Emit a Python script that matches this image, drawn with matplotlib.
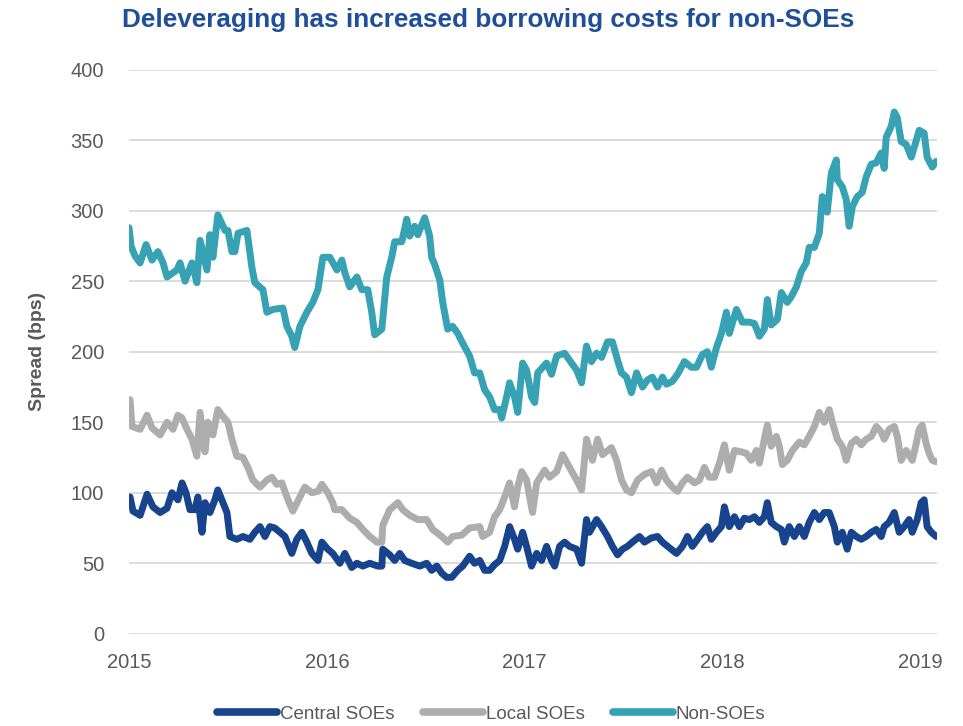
import matplotlib

matplotlib.use("Agg")
import matplotlib.pyplot as plt
from matplotlib.lines import Line2D

# decimal years / spread in bps
central_t = [2015.005, 2015.020, 2015.056, 2015.091, 2015.121, 2015.157, 2015.192, 2015.217, 2015.247, 2015.268,
             2015.288, 2015.308, 2015.333, 2015.348, 2015.369, 2015.384, 2015.409, 2015.434, 2015.449, 2015.475,
             2015.495, 2015.510, 2015.545, 2015.576, 2015.611, 2015.636, 2015.662, 2015.687, 2015.712, 2015.737,
             2015.763, 2015.788, 2015.823, 2015.848, 2015.874, 2015.899, 2015.924, 2015.955, 2015.975, 2016.005,
             2016.030, 2016.066, 2016.091, 2016.126, 2016.152, 2016.182, 2016.217, 2016.258, 2016.278, 2016.283,
             2016.318, 2016.343, 2016.369, 2016.394, 2016.429, 2016.470, 2016.505, 2016.530, 2016.556, 2016.581,
             2016.606, 2016.631, 2016.662, 2016.687, 2016.722, 2016.747, 2016.773, 2016.798, 2016.823, 2016.848,
             2016.874, 2016.899, 2016.924, 2016.949, 2016.965, 2016.990, 2017.010, 2017.035, 2017.061, 2017.086,
             2017.111, 2017.136, 2017.152, 2017.177, 2017.202, 2017.227, 2017.263, 2017.288, 2017.313, 2017.328,
             2017.364, 2017.389, 2017.419, 2017.444, 2017.470, 2017.495, 2017.520, 2017.545, 2017.581, 2017.606,
             2017.641, 2017.672, 2017.697, 2017.732, 2017.768, 2017.798, 2017.823, 2017.848, 2017.874, 2017.899,
             2017.924, 2017.944, 2017.970, 2017.995, 2018.010, 2018.035, 2018.061, 2018.086, 2018.111, 2018.136,
             2018.162, 2018.187, 2018.212, 2018.227, 2018.247, 2018.273, 2018.298, 2018.313, 2018.338, 2018.364,
             2018.389, 2018.414, 2018.439, 2018.465, 2018.490, 2018.515, 2018.540, 2018.566, 2018.581, 2018.606,
             2018.631, 2018.652, 2018.677, 2018.702, 2018.727, 2018.753, 2018.778, 2018.803, 2018.818, 2018.843,
             2018.869, 2018.894, 2018.919, 2018.944, 2018.960, 2018.985, 2019.005, 2019.020, 2019.035, 2019.056,
             2019.081]
central_v = [97, 87, 84, 99, 90, 86, 89, 100, 95, 107,
             100, 88, 88, 97, 72, 93, 86, 95, 102, 93,
             86, 69, 67, 69, 67, 72, 76, 69, 76, 75,
             72, 69, 57, 67, 72, 65, 57, 52, 65, 60,
             57, 50, 57, 47, 50, 48, 50, 48, 48, 60,
             56, 52, 57, 52, 50, 48, 50, 45, 48, 43,
             40, 40, 45, 48, 55, 50, 52, 45, 45, 49,
             52, 62, 76, 67, 60, 72, 62, 48, 57, 52,
             62, 52, 48, 62, 65, 62, 60, 50, 81, 72,
             81, 76, 69, 62, 56, 60, 62, 65, 69, 65,
             68, 69, 65, 61, 57, 62, 69, 62, 67, 72,
             76, 67, 72, 76, 90, 76, 83, 76, 82, 81,
             83, 79, 83, 93, 79, 76, 74, 65, 76, 69,
             76, 69, 79, 86, 81, 86, 86, 76, 65, 72,
             60, 72, 69, 67, 69, 72, 74, 69, 76, 79,
             86, 72, 76, 81, 72, 81, 93, 95, 76, 72,
             69]

local_t = [2015.005, 2015.015, 2015.056, 2015.091, 2015.116, 2015.157, 2015.192, 2015.222, 2015.247, 2015.268,
           2015.293, 2015.318, 2015.343, 2015.359, 2015.384, 2015.399, 2015.424, 2015.449, 2015.475, 2015.500,
           2015.520, 2015.545, 2015.576, 2015.601, 2015.626, 2015.662, 2015.697, 2015.722, 2015.747, 2015.773,
           2015.798, 2015.828, 2015.864, 2015.889, 2015.924, 2015.955, 2015.975, 2016.005, 2016.030, 2016.040,
           2016.076, 2016.116, 2016.152, 2016.182, 2016.217, 2016.253, 2016.278, 2016.283, 2016.318, 2016.359,
           2016.384, 2016.419, 2016.460, 2016.505, 2016.535, 2016.581, 2016.611, 2016.636, 2016.682, 2016.722,
           2016.773, 2016.788, 2016.823, 2016.848, 2016.874, 2016.899, 2016.924, 2016.949, 2016.965, 2016.985,
           2017.010, 2017.040, 2017.061, 2017.101, 2017.126, 2017.162, 2017.192, 2017.227, 2017.263, 2017.288,
           2017.313, 2017.343, 2017.369, 2017.394, 2017.439, 2017.465, 2017.490, 2017.515, 2017.540, 2017.571,
           2017.606, 2017.641, 2017.667, 2017.692, 2017.717, 2017.747, 2017.773, 2017.798, 2017.823, 2017.859,
           2017.884, 2017.909, 2017.934, 2017.960, 2017.985, 2018.010, 2018.035, 2018.061, 2018.096, 2018.121,
           2018.146, 2018.172, 2018.187, 2018.212, 2018.227, 2018.247, 2018.273, 2018.288, 2018.303, 2018.328,
           2018.354, 2018.389, 2018.414, 2018.439, 2018.465, 2018.490, 2018.515, 2018.540, 2018.556, 2018.581,
           2018.606, 2018.626, 2018.652, 2018.677, 2018.702, 2018.727, 2018.753, 2018.778, 2018.803, 2018.818,
           2018.843, 2018.869, 2018.884, 2018.904, 2018.929, 2018.960, 2018.980, 2018.995, 2019.010, 2019.030,
           2019.045, 2019.061, 2019.081]
local_v = [166, 147, 145, 155, 146, 141, 150, 145, 155, 153,
           145, 138, 126, 157, 129, 150, 141, 159, 154, 150,
           138, 126, 125, 118, 109, 104, 109, 111, 106, 107,
           97, 87, 97, 104, 100, 101, 106, 100, 93, 88,
           88, 82, 79, 74, 69, 65, 65, 77, 88, 93,
           88, 84, 81, 81, 74, 69, 65, 69, 70, 75,
           76, 69, 72, 83, 88, 97, 107, 90, 104, 115,
           109, 86, 107, 116, 111, 115, 127, 118, 109, 102,
           138, 123, 138, 127, 132, 123, 109, 102, 100, 109,
           113, 115, 107, 116, 109, 104, 101, 107, 111, 107,
           109, 118, 111, 111, 121, 134, 116, 130, 129, 128,
           123, 130, 121, 138, 148, 133, 140, 133, 120, 123,
           130, 136, 134, 140, 147, 157, 150, 159, 150, 138,
           133, 123, 135, 138, 134, 138, 140, 147, 143, 138,
           145, 147, 140, 123, 130, 123, 135, 145, 148, 135,
           128, 123, 122]

non_t = [2015.000, 2015.010, 2015.030, 2015.056, 2015.086, 2015.116, 2015.146, 2015.172, 2015.192, 2015.242,
         2015.258, 2015.283, 2015.318, 2015.343, 2015.359, 2015.394, 2015.409, 2015.424, 2015.449, 2015.485,
         2015.500, 2015.520, 2015.535, 2015.551, 2015.596, 2015.621, 2015.636, 2015.677, 2015.697, 2015.727,
         2015.778, 2015.798, 2015.823, 2015.838, 2015.864, 2015.899, 2015.929, 2015.955, 2015.980, 2016.015,
         2016.051, 2016.076, 2016.091, 2016.116, 2016.152, 2016.177, 2016.207, 2016.227, 2016.242, 2016.278,
         2016.303, 2016.328, 2016.343, 2016.379, 2016.404, 2016.419, 2016.444, 2016.460, 2016.495, 2016.520,
         2016.530, 2016.545, 2016.571, 2016.586, 2016.611, 2016.636, 2016.662, 2016.687, 2016.722, 2016.747,
         2016.773, 2016.798, 2016.823, 2016.848, 2016.874, 2016.884, 2016.909, 2016.924, 2016.949, 2016.965,
         2016.990, 2017.010, 2017.035, 2017.051, 2017.066, 2017.111, 2017.136, 2017.162, 2017.202, 2017.227,
         2017.263, 2017.288, 2017.313, 2017.338, 2017.364, 2017.389, 2017.419, 2017.444, 2017.470, 2017.490,
         2017.515, 2017.540, 2017.566, 2017.596, 2017.621, 2017.646, 2017.672, 2017.697, 2017.717, 2017.747,
         2017.773, 2017.808, 2017.843, 2017.869, 2017.899, 2017.924, 2017.944, 2017.970, 2017.995, 2018.020,
         2018.035, 2018.071, 2018.101, 2018.136, 2018.162, 2018.187, 2018.212, 2018.227, 2018.247, 2018.278,
         2018.298, 2018.328, 2018.348, 2018.374, 2018.399, 2018.424, 2018.439, 2018.465, 2018.490, 2018.500,
         2018.505, 2018.530, 2018.551, 2018.576, 2018.581, 2018.606, 2018.626, 2018.641, 2018.657, 2018.682,
         2018.707, 2018.727, 2018.753, 2018.778, 2018.803, 2018.818, 2018.828, 2018.854, 2018.869, 2018.884,
         2018.904, 2018.929, 2018.955, 2018.970, 2018.995, 2019.020, 2019.035, 2019.061, 2019.081]
non_v = [288, 275, 268, 263, 276, 265, 271, 263, 253, 258,
         263, 250, 263, 249, 279, 258, 283, 267, 297, 286,
         286, 271, 271, 284, 286, 260, 249, 244, 228, 230,
         231, 218, 211, 203, 218, 228, 235, 244, 267, 267,
         258, 265, 256, 246, 253, 244, 244, 228, 212, 216,
         253, 267, 278, 278, 294, 282, 289, 283, 295, 282,
         267, 262, 251, 235, 216, 218, 213, 206, 197, 185,
         185, 173, 168, 159, 159, 153, 168, 178, 168, 157,
         192, 187, 168, 164, 185, 192, 184, 197, 199, 194,
         187, 178, 204, 193, 199, 196, 207, 207, 194, 185,
         182, 171, 185, 175, 180, 182, 175, 182, 177, 179,
         184, 193, 189, 189, 198, 200, 189, 203, 213, 228,
         213, 230, 221, 221, 220, 211, 216, 237, 219, 223,
         242, 235, 239, 246, 257, 263, 274, 274, 284, 301,
         310, 299, 327, 336, 322, 317, 308, 289, 303, 310,
         313, 324, 333, 334, 341, 330, 352, 360, 370, 366,
         349, 347, 338, 345, 357, 355, 338, 331, 335]

years = [2015, 2016, 2017, 2018, 2019]
yticks = [0, 50, 100, 150, 200, 250, 300, 350, 400]

FONT = ["Liberation Sans", "DejaVu Sans"]
C_CENTRAL = "#17448c"
C_LOCAL = "#adadad"
C_NON = "#36a2b4"
TICK = "#595959"

fig = plt.figure(figsize=(9.63, 7.26), dpi=100)
ax = fig.add_axes([0.134, 0.127, 0.839, 0.777])

lw = 5.0
for t, v, c, z in [(non_t, non_v, C_NON, 3), (local_t, local_v, C_LOCAL, 3), (central_t, central_v, C_CENTRAL, 4)]:
    ax.plot(t, v, color=c, lw=lw, solid_joinstyle="round", solid_capstyle="round", zorder=z)

ax.set_xlim(2015, 2019.085)
ax.set_ylim(0, 400)
ax.set_xticks(years)
ax.set_xticklabels([str(y) for y in years], family=FONT, fontsize=14.5, color=TICK)
ax.set_yticks(yticks)
ax.set_yticklabels([str(v) for v in yticks], family=FONT, fontsize=14.5, color=TICK)
ax.tick_params(length=0)
ax.tick_params(axis="x", pad=14)
ax.tick_params(axis="y", pad=18)
ax.grid(axis="y", color="#d9d9d9", lw=1.3)
ax.set_axisbelow(True)
for s in ax.spines.values():
    s.set_visible(False)

ax.set_ylabel("Spread (bps)", family=FONT, fontsize=14, fontweight="bold", color=TICK, labelpad=18)

fig.text(0.507, 0.972, "Deleveraging has increased borrowing costs for non-SOEs", ha="center", va="center",
         family=FONT, fontsize=18.8, fontweight="bold", color="#1f4e9a")

handles = [
    Line2D([0], [0], color=C_CENTRAL, lw=5.5, solid_capstyle="round", label="Central SOEs"),
    Line2D([0], [0], color=C_LOCAL, lw=5.5, solid_capstyle="round", label="Local SOEs"),
    Line2D([0], [0], color=C_NON, lw=5.5, solid_capstyle="round", label="Non-SOEs"),
]
fig.legend(handles=handles, loc="center", bbox_to_anchor=(0.51, 0.016), ncol=3, frameon=False,
           prop={"family": FONT, "size": 13.5}, labelcolor=TICK, handlelength=3.2, handletextpad=0.15,
           columnspacing=1.5)

fig.savefig("out.png", dpi=100)
